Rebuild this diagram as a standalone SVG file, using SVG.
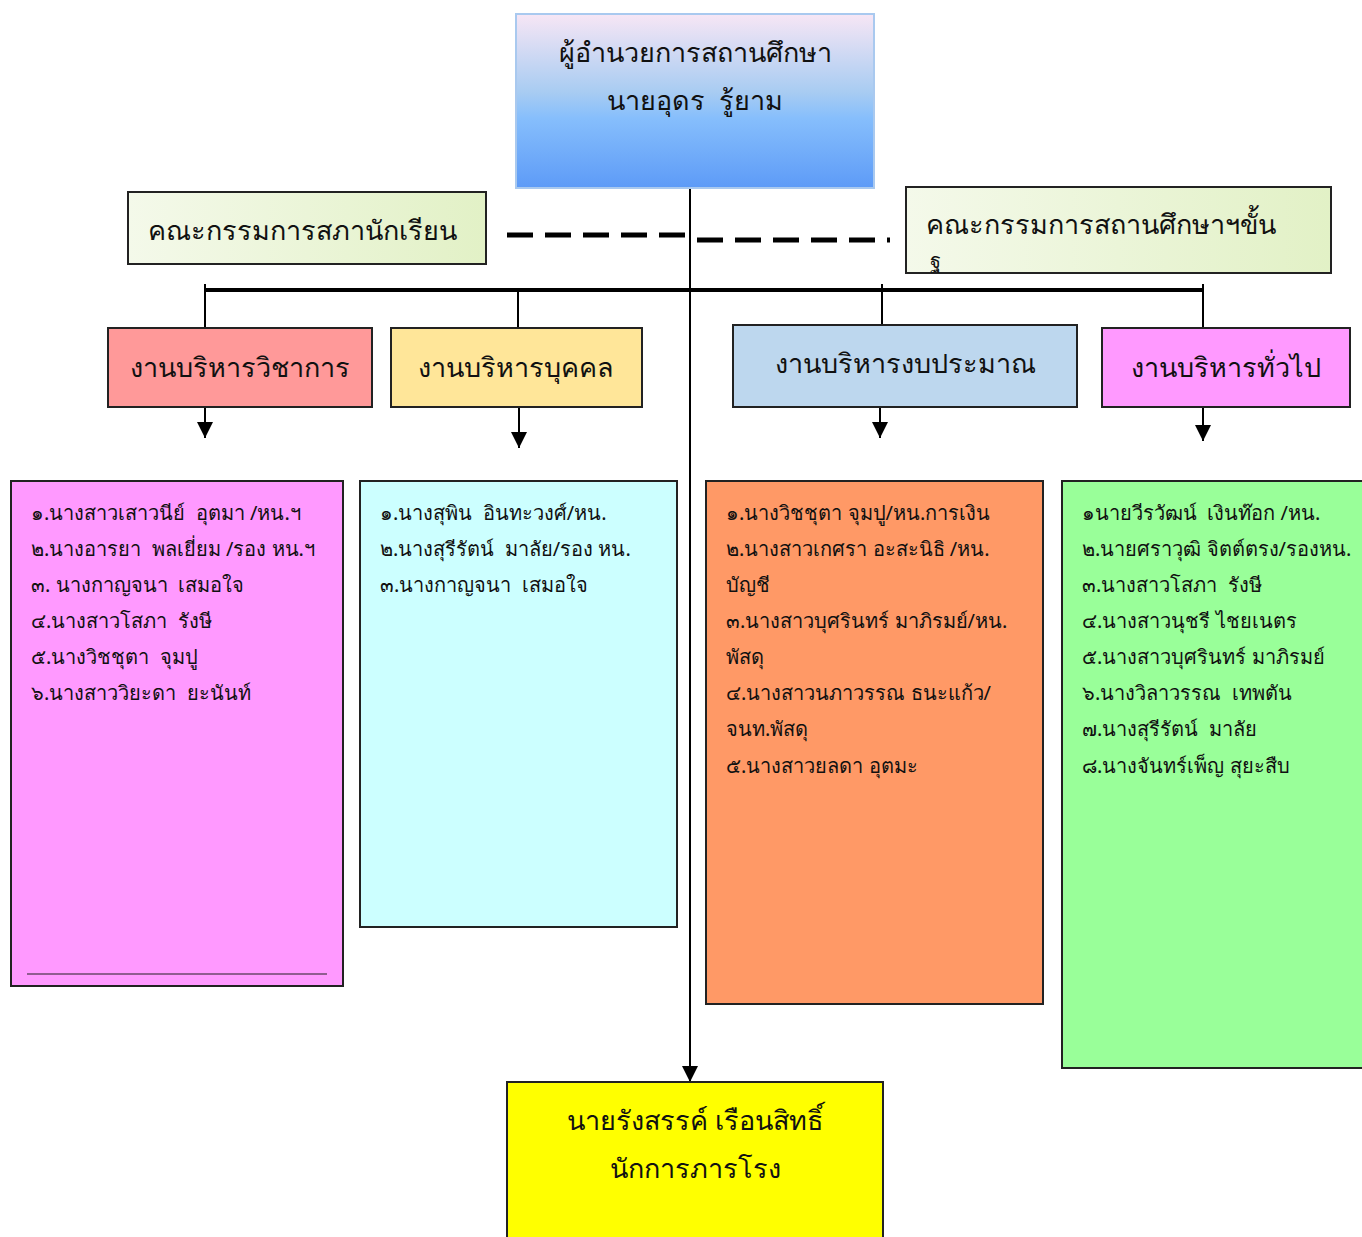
<svg xmlns="http://www.w3.org/2000/svg" width="1362" height="1237" viewBox="0 0 1362 1237">
<defs>
<linearGradient id="gTop" x1="0" y1="0" x2="0" y2="1">
<stop offset="0" stop-color="#f7e6f5"/>
<stop offset="0.45" stop-color="#a8ccf2"/>
<stop offset="0.6" stop-color="#86befc"/>
<stop offset="1" stop-color="#5d9bf7"/>
</linearGradient>
<linearGradient id="gCom" x1="0" y1="0" x2="1" y2="0">
<stop offset="0" stop-color="#f4f9ea"/>
<stop offset="1" stop-color="#e2f1c6"/>
</linearGradient>
<marker id="arrB" viewBox="0 0 10 10" refX="10" refY="5" markerWidth="16" markerHeight="16" markerUnits="userSpaceOnUse" orient="auto">
<path d="M0,0 L10,5 L0,10 z" fill="#000"/>
</marker>
</defs>
<style>
.box{stroke:#222;stroke-width:2}
.t{font-family:"Noto Sans","DejaVu Sans",sans-serif;fill:#111;white-space:pre}
.h{font-size:27px;text-anchor:middle}
.l{font-size:20px}
.ln{stroke:#000;stroke-width:2;fill:none}
</style>
<rect width="1362" height="1237" fill="#fff"/>

<g id="connectors">
<line class="ln" x1="690" y1="188" x2="690" y2="1082" marker-end="url(#arrB)"/>
<line x1="507" y1="235" x2="690" y2="235" stroke="#000" stroke-width="5" stroke-dasharray="26,12"/>
<line x1="697" y1="240" x2="890" y2="240" stroke="#000" stroke-width="5" stroke-dasharray="26,12"/>
<line x1="205" y1="290" x2="1204" y2="290" stroke="#000" stroke-width="4"/>
<line class="ln" x1="205" y1="284" x2="205" y2="328"/>
<line class="ln" x1="518" y1="290" x2="518" y2="328"/>
<line class="ln" x1="882" y1="284" x2="882" y2="325"/>
<line class="ln" x1="1203" y1="284" x2="1203" y2="328"/>
<line class="ln" x1="205" y1="407" x2="205" y2="438" marker-end="url(#arrB)"/>
<line class="ln" x1="519" y1="407" x2="519" y2="448" marker-end="url(#arrB)"/>
<line class="ln" x1="880" y1="407" x2="880" y2="438" marker-end="url(#arrB)"/>
<line class="ln" x1="1203" y1="407" x2="1203" y2="441" marker-end="url(#arrB)"/>
</g>

<g id="director">
<rect x="516" y="14" width="358" height="174" fill="url(#gTop)" stroke="#a9c9ef" stroke-width="2"/>
<text class="t h" x="695" y="62">ผู้อำนวยการสถานศึกษา</text>
<text class="t h" x="695" y="110">นายอุดร  รู้ยาม</text>
</g>

<g id="student-council">
<rect class="box" x="128" y="192" width="358" height="72" fill="url(#gCom)"/>
<text class="t" x="148" y="240" font-size="27">คณะกรรมการสภานักเรียน</text>
</g>

<g id="school-board">
<rect class="box" x="906" y="187" width="425" height="86" fill="url(#gCom)"/>
<text class="t" x="926" y="234" font-size="27">คณะกรรมการสถานศึกษาฯขั้น</text>
<text class="t" x="930" y="268" font-size="20">ฐ</text>
</g>

<g id="academic">
<rect class="box" x="108" y="328" width="264" height="79" fill="#ff9999"/>
<text class="t h" x="240" y="377">งานบริหารวิชาการ</text>
</g>
<g id="personnel">
<rect class="box" x="391" y="328" width="251" height="79" fill="#ffe699"/>
<text class="t h" x="516" y="377">งานบริหารบุคคล</text>
</g>
<g id="budget">
<rect class="box" x="733" y="325" width="344" height="82" fill="#bdd7ee"/>
<text class="t h" x="905" y="373">งานบริหารงบประมาณ</text>
</g>
<g id="general">
<rect class="box" x="1102" y="328" width="248" height="79" fill="#ff99ff"/>
<text class="t h" x="1226" y="377">งานบริหารทั่วไป</text>
</g>

<g id="academic-list">
<rect class="box" x="11" y="481" width="332" height="505" fill="#ff99ff"/>
<line x1="27" y1="974" x2="327" y2="974" stroke="#222" stroke-width="1.2"/>
<text class="t l" x="31" y="520">๑.นางสาวเสาวนีย์  อุตมา /หน.ฯ</text>
<text class="t l" x="31" y="556">๒.นางอารยา  พลเยี่ยม /รอง หน.ฯ</text>
<text class="t l" x="31" y="592">๓. นางกาญจนา  เสมอใจ</text>
<text class="t l" x="31" y="628">๔.นางสาวโสภา  รังษี</text>
<text class="t l" x="31" y="664">๕.นางวิชชุตา  จุมปู</text>
<text class="t l" x="31" y="700">๖.นางสาววิยะดา  ยะนันท์</text>
</g>

<g id="personnel-list">
<rect class="box" x="360" y="481" width="317" height="446" fill="#ccffff"/>
<text class="t l" x="380" y="520">๑.นางสุพิน  อินทะวงศ์/หน.</text>
<text class="t l" x="380" y="556">๒.นางสุรีรัตน์  มาลัย/รอง หน.</text>
<text class="t l" x="380" y="592">๓.นางกาญจนา  เสมอใจ</text>
</g>

<g id="budget-list">
<rect class="box" x="706" y="481" width="337" height="523" fill="#ff9966"/>
<text class="t l" x="726" y="520">๑.นางวิชชุตา จุมปู/หน.การเงิน</text>
<text class="t l" x="726" y="556">๒.นางสาวเกศรา อะสะนิธิ /หน.</text>
<text class="t l" x="726" y="592">บัญชี</text>
<text class="t l" x="726" y="628">๓.นางสาวบุศรินทร์ มาภิรมย์/หน.</text>
<text class="t l" x="726" y="664">พัสดุ</text>
<text class="t l" x="726" y="700">๔.นางสาวนภาวรรณ ธนะแก้ว/</text>
<text class="t l" x="726" y="736">จนท.พัสดุ</text>
<text class="t l" x="726" y="773">๕.นางสาวยลดา อุตมะ</text>
</g>

<g id="general-list">
<rect class="box" x="1062" y="481" width="302" height="587" fill="#99ff99"/>
<text class="t l" x="1082" y="520">๑นายวีรวัฒน์  เงินท๊อก /หน.</text>
<text class="t l" x="1082" y="556">๒.นายศราวุฒิ จิตต์ตรง/รองหน.</text>
<text class="t l" x="1082" y="592">๓.นางสาวโสภา  รังษี</text>
<text class="t l" x="1082" y="628">๔.นางสาวนุชรี ไชยเนตร</text>
<text class="t l" x="1082" y="664">๕.นางสาวบุศรินทร์ มาภิรมย์</text>
<text class="t l" x="1082" y="700">๖.นางวิลาวรรณ  เทพตัน</text>
<text class="t l" x="1082" y="736">๗.นางสุรีรัตน์  มาลัย</text>
<text class="t l" x="1082" y="773">๘.นางจันทร์เพ็ญ สุยะสืบ</text>
</g>

<g id="janitor">
<rect class="box" x="507" y="1082" width="376" height="170" fill="#ffff00"/>
<text class="t h" x="695" y="1130">นายรังสรรค์ เรือนสิทธิ์</text>
<text class="t h" x="695" y="1178">นักการภารโรง</text>
</g>
</svg>
